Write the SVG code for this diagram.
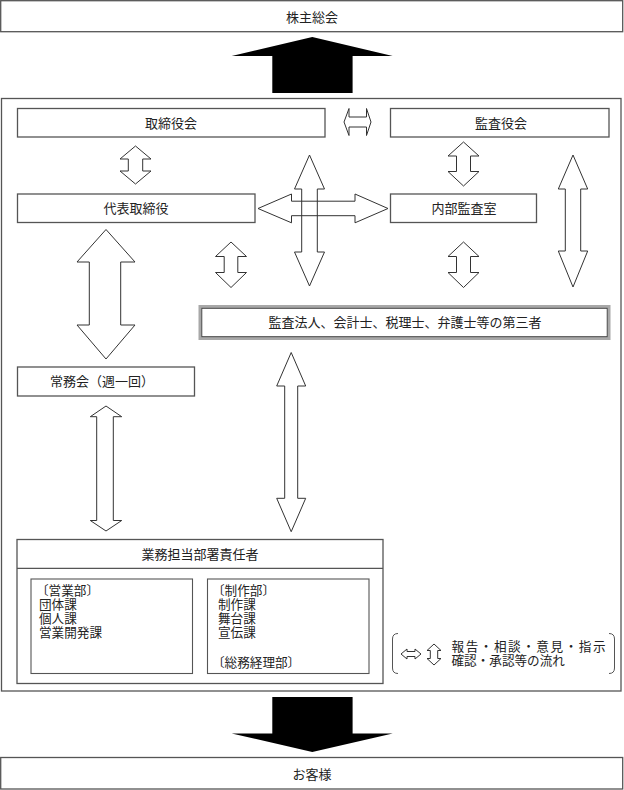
<svg xmlns="http://www.w3.org/2000/svg" width="624" height="790" viewBox="0 0 624 790">
<defs>
<style>
.box{fill:#fff;stroke:#555;stroke-width:1.3}
.inner{fill:none;stroke:#555;stroke-width:1.1}
.arr{fill:none;stroke:#333;stroke-width:1}
.blk{fill:#000;stroke:none}
.t{font-family:"Liberation Serif","Noto Sans CJK JP","Noto Sans CJK SC",serif;font-size:13px;fill:#222;dominant-baseline:central}
.s{font-size:12.6px}
.c{text-anchor:middle}
</style>
</defs>
<rect width="624" height="790" fill="#fff"/>

<g id="shareholders">
<rect class="box" x="0.7" y="0.7" width="622" height="31"/>
<text class="t c" x="312" y="17">株主総会</text>
</g>

<g id="container">
<rect class="box" x="1.5" y="98.5" width="619.5" height="592.5"/>
</g>

<g id="board">
<rect class="box" x="17.5" y="108.5" width="307.5" height="28.5"/>
<text class="t c" x="171" y="123">取締役会</text>
</g>

<g id="auditors">
<rect class="box" x="390.5" y="108.5" width="218.5" height="28.5"/>
<text class="t c" x="501" y="123">監査役会</text>
</g>

<g id="ceo">
<rect class="box" x="17.5" y="194" width="237.5" height="28.5"/>
<text class="t c" x="136" y="208">代表取締役</text>
</g>

<g id="internal-audit">
<rect class="box" x="390.5" y="194" width="146" height="28.5"/>
<text class="t c" x="464" y="208">内部監査室</text>
</g>

<g id="third-party">
<rect x="200" y="306.5" width="409" height="32" fill="#fff" stroke="#a8a8a8" stroke-width="3"/>
<rect x="201.8" y="308.3" width="405.4" height="28.4" fill="none" stroke="#333" stroke-width="0.9"/>
<text class="t c" x="405" y="322.5">監査法人、会計士、税理士、弁護士等の第三者</text>
</g>

<g id="executive-committee">
<rect class="box" x="17.5" y="367" width="177" height="29"/>
<text class="t c" x="102" y="381">常務会（週一回）</text>
</g>

<g id="department-heads">
<rect class="box" x="17" y="539.5" width="366" height="144"/>
<line x1="17" y1="568.3" x2="383" y2="568.3" stroke="#555" stroke-width="1.3"/>
<text class="t c" x="200" y="554">業務担当部署責任者</text>
<rect class="inner" x="31" y="579" width="161.5" height="94.5"/>
<rect class="inner" x="207.5" y="579" width="161.5" height="94.5"/>
<text class="t s" x="36" y="591">〔営業部〕</text>
<text class="t s" x="39" y="605">団体課</text>
<text class="t s" x="39" y="619">個人課</text>
<text class="t s" x="39" y="633">営業開発課</text>
<text class="t s" x="212" y="591">〔制作部〕</text>
<text class="t s" x="218" y="605">制作課</text>
<text class="t s" x="218" y="619">舞台課</text>
<text class="t s" x="218" y="633">宣伝課</text>
<text class="t s" x="212" y="663">〔総務経理部〕</text>
</g>

<g id="legend">
<path d="M398,633.5 Q392.5,633.5 392.5,639 L392.5,668 Q392.5,673.5 398,673.5" fill="none" stroke="#555" stroke-width="1"/>
<path d="M609,633.5 Q614.5,633.5 614.5,639 L614.5,668 Q614.5,673.5 609,673.5" fill="none" stroke="#555" stroke-width="1"/>
<path class="arr" d="M401,654 L407,649 L407,651.5 L415,651.5 L415,649 L421,654 L415,659 L415,656.5 L407,656.5 L407,659 Z"/>
<path class="arr" d="M434,644 L441,650.5 L437.7,650.5 L437.7,658.5 L441,658.5 L434,665 L427,658.5 L430.3,658.5 L430.3,650.5 L427,650.5 Z"/>
<text class="t s" x="451.5" y="647" textLength="154" lengthAdjust="spacing">報告・相談・意見・指示</text>
<text class="t s" x="451.5" y="661">確認・承認等の流れ</text>
</g>

<g id="customers">
<rect class="box" x="0.7" y="757.5" width="622" height="31.5"/>
<text class="t c" x="312" y="774">お客様</text>
</g>

<g id="connectors">
<path class="blk" d="M312.3,37 L392.7,56 L352.6,56 L352.6,93 L272.3,93 L272.3,56 L231.7,56 Z"/>
<path class="blk" d="M312.3,752 L392.7,733.5 L352.6,733.5 L352.6,697 L272.3,697 L272.3,733.5 L231.7,733.5 Z"/>
<path class="arr" d="M344,122 L349,108.5 L349,117 L366.5,117 L366.5,108.5 L371,122 L366.5,135.5 L366.5,127 L349,127 L349,135.5 Z"/>
<path class="arr" d="M135.5,146 L151,159 L142.7,159 L142.7,171 L151,171 L135.5,184 L120,171 L128.3,171 L128.3,159 L120,159 Z"/>
<path class="arr" d="M463.5,142 L479,156 L470.5,156 L470.5,171.5 L479,171.5 L463.5,186 L448,171.5 L456.5,171.5 L456.5,156 L448,156 Z"/>
<path class="arr" d="M463.5,242 L479,256.5 L470.5,256.5 L470.5,272.5 L479,272.5 L463.5,287.5 L448,272.5 L456.5,272.5 L456.5,256.5 L448,256.5 Z"/>
<path class="arr" d="M231,242 L246.5,256.5 L237.8,256.5 L237.8,272.5 L246.5,272.5 L231,287.5 L215.5,272.5 L224.2,272.5 L224.2,256.5 L215.5,256.5 Z"/>
<path class="arr" d="M309.5,155 L324.5,189 L317.3,189 L317.3,252 L324.5,252 L309.5,286 L294.5,252 L301.7,252 L301.7,189 L294.5,189 Z"/>
<path class="arr" d="M258,208.5 L291.5,194 L291.5,201.2 L355,201.2 L355,194 L388,208.5 L355,222.8 L355,215.7 L291.5,215.7 L291.5,222.8 Z"/>
<path class="arr" d="M573,155 L587.7,189 L580.7,189 L580.7,251 L587.7,251 L573,287 L558.3,251 L565.3,251 L565.3,189 L558.3,189 Z"/>
<path class="arr" d="M106,229.5 L135,262 L120.7,262 L120.7,325 L135,325 L106,359 L77,325 L89.3,325 L89.3,262 L77,262 Z"/>
<path class="arr" d="M106,406 L121.7,416.7 L113.3,416.7 L113.3,520.5 L121.7,520.5 L106,531 L90.3,520.5 L96.7,520.5 L96.7,416.7 L90.3,416.7 Z"/>
<path class="arr" d="M291.2,352.5 L305.7,386 L297.7,386 L297.7,498.3 L305.7,498.3 L291.2,531.7 L276.7,498.3 L284.7,498.3 L284.7,386 L276.7,386 Z"/>
</g>
</svg>
